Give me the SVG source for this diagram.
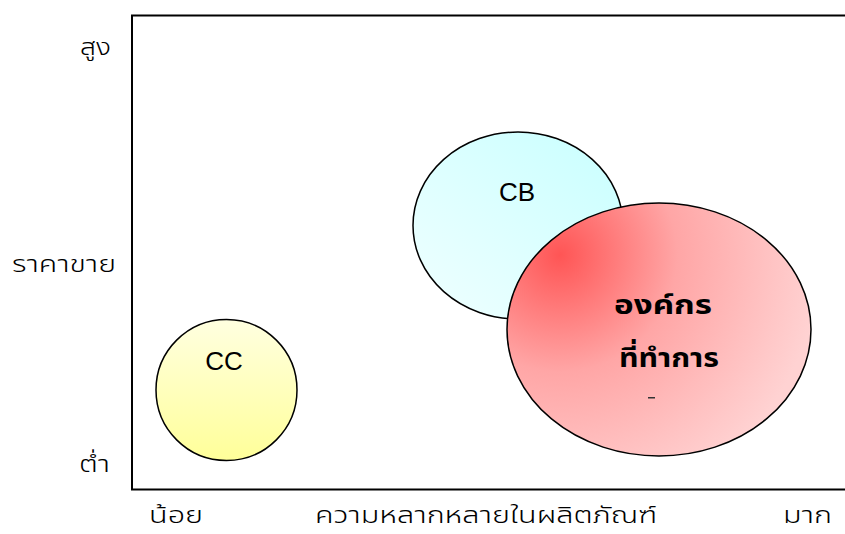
<svg xmlns="http://www.w3.org/2000/svg" width="845" height="534" viewBox="0 0 845 534">
<style>
.ax{font-family:"Noto Sans Thai","Noto Sans","DejaVu Sans",sans-serif;font-size:23px;font-weight:300;fill:#000}
.lbl{font-family:"Liberation Sans",Arial,sans-serif;font-size:26px;fill:#000}
.th{font-family:"Noto Sans Thai","Noto Sans","DejaVu Sans",sans-serif;font-size:27px;font-weight:bold;fill:#000}
.shape{stroke:#000;stroke-width:1.5}
</style>
<defs>
<linearGradient id="gcc" x1="0" y1="0" x2="0" y2="1">
<stop offset="0" stop-color="#FFFFE0"/>
<stop offset="1" stop-color="#FFFF99"/>
</linearGradient>
<linearGradient id="gcb" x1="1" y1="0" x2="0" y2="1">
<stop offset="0" stop-color="#C8FFFF"/>
<stop offset="1" stop-color="#F0FFFF"/>
</linearGradient>
<radialGradient id="gred" gradientUnits="userSpaceOnUse" cx="560" cy="255" r="260">
<stop offset="0" stop-color="#FF5555"/>
<stop offset="0.45" stop-color="#FFA6A6"/>
<stop offset="1" stop-color="#FFD2D2"/>
</radialGradient>
</defs>
<rect x="0" y="0" width="845" height="534" fill="#fff"/>
<g id="frame">
<path d="M850,15.5 H132 V489.5 H850" fill="none" stroke="#000" stroke-width="2"/>
</g>
<g id="axis-labels">
<text class="ax" x="80" y="55" textLength="31" lengthAdjust="spacingAndGlyphs">สูง</text>
<text class="ax" x="12" y="272" textLength="104" lengthAdjust="spacingAndGlyphs">ราคาขาย</text>
<text class="ax" x="79" y="472" textLength="31" lengthAdjust="spacingAndGlyphs">ต่ำ</text>
<text class="ax" x="149" y="523" textLength="54" lengthAdjust="spacingAndGlyphs">น้อย</text>
<text class="ax" x="315" y="523" textLength="342" lengthAdjust="spacingAndGlyphs">ความหลากหลายในผลิตภัณฑ์</text>
<text class="ax" x="783" y="523" textLength="49" lengthAdjust="spacingAndGlyphs">มาก</text>
</g>
<g id="node-cc">
<circle class="shape" cx="226.5" cy="390" r="70.5" fill="url(#gcc)"/>
<text class="lbl" x="224" y="370" text-anchor="middle">CC</text>
</g>
<g id="node-cb">
<ellipse class="shape" cx="518" cy="225.5" rx="105" ry="93.5" fill="url(#gcb)"/>
<text class="lbl" x="517" y="201" text-anchor="middle">CB</text>
</g>
<g id="node-org">
<ellipse class="shape" cx="659" cy="329.5" rx="152" ry="126.5" fill="url(#gred)"/>
<text class="th" x="614" y="314" textLength="98" lengthAdjust="spacingAndGlyphs">องค์กร</text>
<text class="th" x="619" y="367" textLength="100" lengthAdjust="spacingAndGlyphs">ที่ทำการ</text>
<rect x="648" y="397" width="7" height="1.5" fill="#333"/>
</g>
<g id="connectors"/>
</svg>
